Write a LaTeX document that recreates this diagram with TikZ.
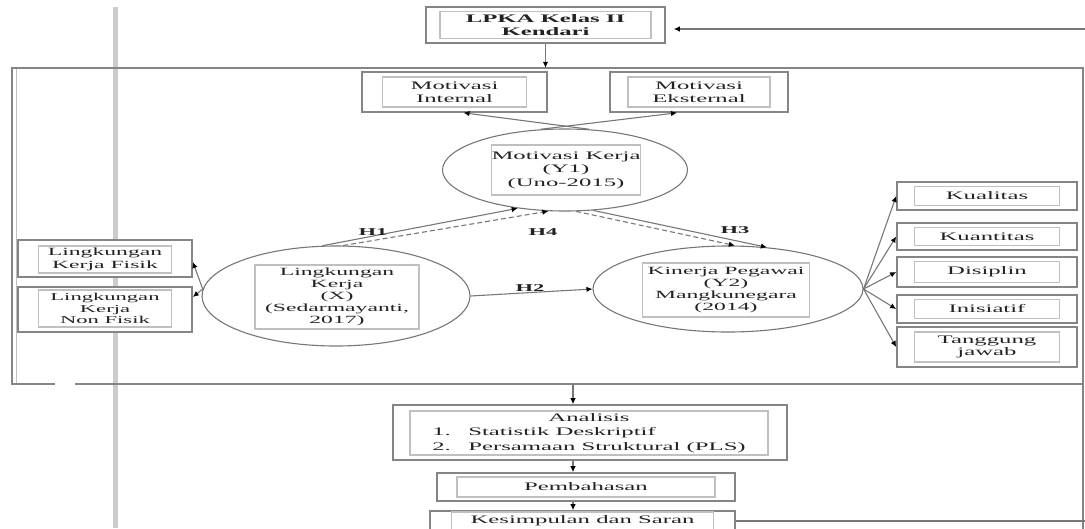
\documentclass[tikz,border=0pt]{standalone}
\usepackage{fontspec}
\setmainfont{Liberation Serif}[FakeStretch=2.15]
\usetikzlibrary{shapes.geometric,arrows.meta,calc}
\definecolor{boxgray}{HTML}{858585}
\definecolor{innergray}{HTML}{C0C0C0}
\definecolor{linegray}{HTML}{777777}
\definecolor{pagegray}{HTML}{CCCCCC}
\definecolor{txt}{HTML}{222222}
\begin{document}
\begin{tikzpicture}[x=1pt,y=-1pt,
  outerbox/.style={rectangle, draw=boxgray, line width=1.6pt, fill=white, inner sep=0pt},
  innerbox/.style={rectangle, draw=innergray, line width=1.6pt, fill=white, inner sep=0pt, align=center, text=txt, font=\fontsize{11.5}{13.5}\selectfont},
  ell/.style={ellipse, draw=linegray, line width=1.1pt, fill=white, inner sep=0pt},
  conn/.style={draw=linegray, line width=1.1pt, -{Latex[length=6pt,width=5.5pt,color=black]}},
  dconn/.style={conn, dash pattern=on 5pt off 3pt},
  hlab/.style={font=\bfseries\fontsize{10.5}{12}\selectfont, text=txt, inner sep=1pt},
  frameline/.style={draw=boxgray, line width=1.6pt},
  pageline/.style={draw=pagegray, line width=5pt}
]
\useasboundingbox (0,0) rectangle (1085,528);
\clip (0,0) rectangle (1085,528);

% page margin line
\coordinate (pgtop) at (115,7);
\coordinate (pgbot) at (115,528);
\draw[pageline] (pgtop) -- (pgbot);

% big frame
\node[minimum width=1071pt, minimum height=316pt, inner sep=0pt] (big) at (547.5,226) {};
\draw[frameline] ([xshift=43pt]big.south west) -- (big.south west) -- (big.north west) -- (big.north east) -- (big.south east) -- ([xshift=63pt]big.south west);
\draw[draw=innergray, line width=1.5pt] ([xshift=4.5pt,yshift=-1pt]big.north west) -- ([xshift=4.5pt,yshift=1pt]big.south west);
\draw[frameline] (big.south east) -- ++(0,150);

% LPKA
\node[outerbox, minimum width=239pt, minimum height=36pt] (lpka) at (545.5,25) {};
\node[innerbox, minimum width=211pt, minimum height=27pt, font=\bfseries\fontsize{11.5}{13}\selectfont] (lpkat) at (lpka) {LPKA Kelas II\\Kendari};

% Motivasi boxes
\node[outerbox, minimum width=185pt, minimum height=40pt] (mi) at (454.5,92) {};
\node[innerbox, minimum width=144pt, minimum height=30pt] (mit) at (mi) {Motivasi\\Internal};
\node[outerbox, minimum width=178pt, minimum height=40pt] (me) at (699,92) {};
\node[innerbox, minimum width=142pt, minimum height=30pt] (met) at (me) {Motivasi\\Eksternal};

% ellipses
\node[ell, minimum width=245pt, minimum height=82pt] (mk) at (565,170) {};
\node[innerbox, minimum width=148pt, minimum height=50pt] (mkt) at (566,170) {Motivasi Kerja\\(Y1)\\(Uno-2015)};
\node[ell, minimum width=268pt, minimum height=100pt] (lk) at (336,296) {};
\node[innerbox, minimum width=164pt, minimum height=64pt, font=\fontsize{11}{12}\selectfont] (lkt) at (337,297) {Lingkungan\\Kerja\\(X)\\(Sedarmayanti,\\2017)};
\node[ell, minimum width=270pt, minimum height=86pt] (kp) at (728,289) {};
\node[innerbox, minimum width=167pt, minimum height=54pt, font=\fontsize{11}{12.3}\selectfont] (kpt) at (726,290) {Kinerja Pegawai\\(Y2)\\Mangkunegara\\(2014)};

% left boxes
\node[outerbox, minimum width=174pt, minimum height=37pt] (lf) at (105,258.5) {};
\node[innerbox, minimum width=133pt, minimum height=27pt, font=\fontsize{11}{12.5}\selectfont] (lft) at (105,259.5) {Lingkungan\\Kerja Fisik};
\node[outerbox, minimum width=174pt, minimum height=45pt] (nf) at (105,309.5) {};
\node[innerbox, minimum width=133pt, minimum height=37pt, font=\fontsize{10.5}{11.5}\selectfont] (nft) at (105,308.5) {Lingkungan\\Kerja\\Non Fisik};

% right boxes
\node[outerbox, minimum width=180pt, minimum height=28pt] (kual) at (987,196) {};
\node[innerbox, minimum width=145pt, minimum height=19pt] (kualt) at (kual) {Kualitas};
\node[outerbox, minimum width=180pt, minimum height=27pt] (kuan) at (987,236.5) {};
\node[innerbox, minimum width=145pt, minimum height=18pt] (kuant) at (kuan) {Kuantitas};
\node[outerbox, minimum width=180pt, minimum height=30pt] (dis) at (987,272) {};
\node[innerbox, minimum width=145pt, minimum height=21pt] (dist) at (dis) {Disiplin};
\node[outerbox, minimum width=180pt, minimum height=28pt] (ini) at (987,309) {};
\node[innerbox, minimum width=145pt, minimum height=19pt] (init) at (ini) {Inisiatif};
\node[outerbox, minimum width=180pt, minimum height=40pt] (tj) at (987,347) {};
\node[innerbox, minimum width=145pt, minimum height=30pt, font=\fontsize{11.5}{12.5}\selectfont] (tjt) at (tj) {Tanggung\\jawab};

% bottom boxes
\node[outerbox, minimum width=394pt, minimum height=55pt] (an) at (590,432.5) {};
\node[innerbox, minimum width=358pt, minimum height=44pt] (ant) at (589,433) {\renewcommand{\arraystretch}{1.08}\begin{tabular}{@{}p{36pt}@{}l@{}}\multicolumn{2}{c}{Analisis}\\ 1. & Statistik Deskriptif\\ 2. & Persamaan Struktural (PLS)\end{tabular}};
\node[outerbox, minimum width=298pt, minimum height=28pt] (pb) at (586,487) {};
\node[innerbox, minimum width=258pt, minimum height=20pt] (pbt) at (pb) {Pembahasan};
\node[outerbox, minimum width=305pt, minimum height=28pt] (ks) at (582.5,525) {};
\node[innerbox, minimum width=262pt, minimum height=18pt] (kst) at (582.5,521) {Kesimpulan dan Saran};

% feedback lines
\coordinate (fbt) at (1085,29);
\coordinate (fbb) at (1085,521);
\draw[conn, shorten >=8pt] (fbt) -- (lpka.east |- fbt);
\draw[draw=linegray, line width=1.1pt] (ks.east |- fbb) -- (fbb);

% vertical flow
\coordinate (ax) at (573,0);
\draw[conn] (lpka.south) -- (lpka.south |- big.north);
\draw[conn] (big.south -| ax) -- (an.north -| ax);
\draw[conn] (an.south -| ax) -- (pb.north -| ax);
\draw[conn] (pb.south -| ax) -- (ks.north -| ax);

% motivasi indicators
\draw[conn] (mk.59) -- ([xshift=9pt]mi.south);
\draw[conn] (mk.121) -- ([xshift=-22pt]me.south);

% hypotheses
\draw[conn] (lk.105) -- (mk.219);
\draw[dconn] (lk.82) -- (mk.248);
\draw[dconn] (mk.285) -- (kp.81);
\draw[conn] (mk.305) -- (kp.47);
\draw[conn] (lk.east) -- (kp.west);
\node[hlab] (h1) at (373,232) {H1};
\node[hlab] (h4) at (543,232) {H4};
\node[hlab] (h3) at (735,230) {H3};
\node[hlab] (h2) at (530,288) {H2};

% lingkungan indicators
\draw[conn] (lk.177) -- ([yshift=-3.5pt]lf.east);
\draw[conn] (lk.177) -- ([yshift=12.5pt]nf.east);

% kinerja indicators
\foreach \b in {kual,kuan,dis,ini,tj} \draw[conn] (kp.east) -- (\b.west);
\end{tikzpicture}
\end{document}
